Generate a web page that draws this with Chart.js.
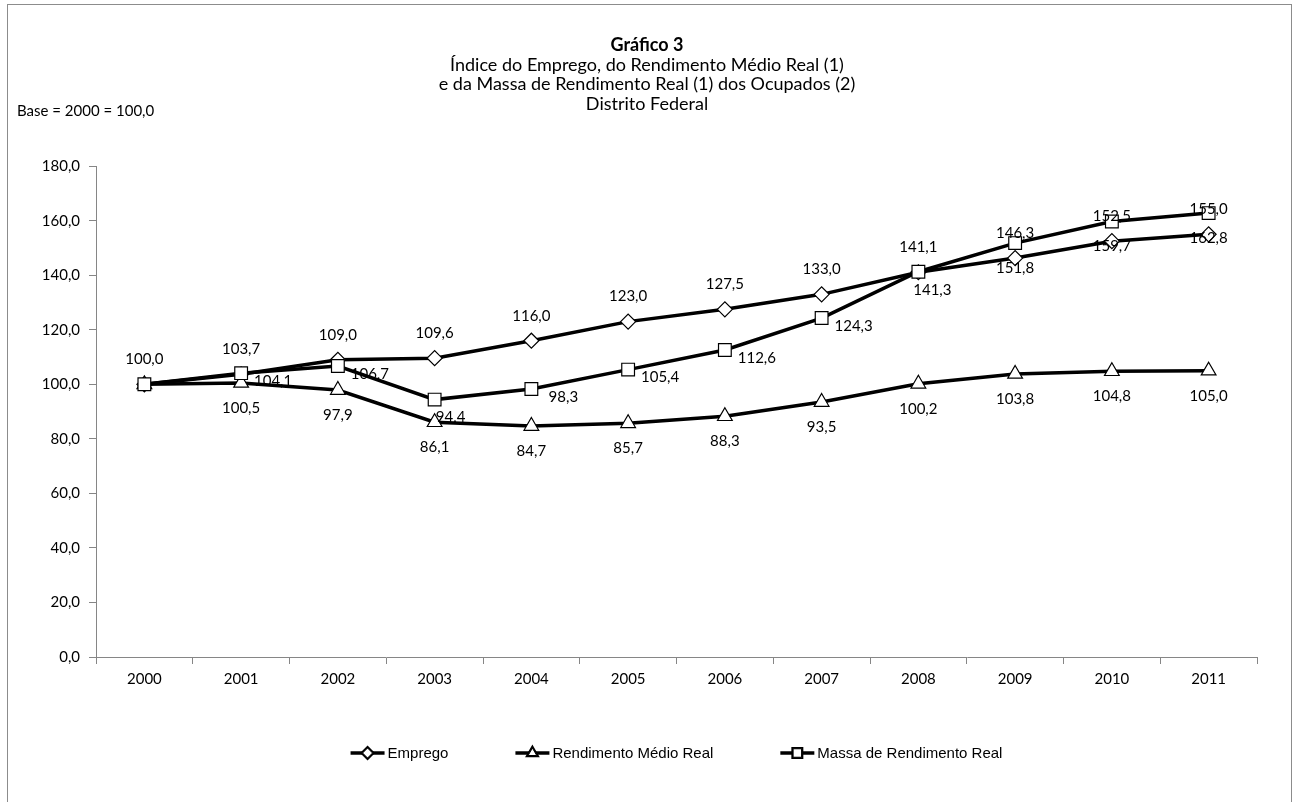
<!DOCTYPE html>
<html>
<head>
<meta charset="utf-8">
<script src="https://cdn.jsdelivr.net/npm/chart.js"></script>
<style>
html, body { margin: 0; padding: 0; background: #fff; overflow: hidden; }
#wrap { position: relative; width: 1294px; height: 802px; }
#moldura { position: absolute; left: 7px; top: 4px; width: 1283px; height: 900px; border: 1px solid #8c8c8c; }
canvas { position: absolute; left: 0; top: 0; }
</style>
</head>
<body>
<div id="wrap">
  <div id="moldura"></div>
  <canvas id="grafico" width="1294" height="802"></canvas>
</div>
<script>
// dados do gráfico (índice, base 2000 = 100)
const anos = ["2000", "2001", "2002", "2003", "2004", "2005", "2006", "2007", "2008", "2009", "2010", "2011"];
const emprego = [100.0, 103.7, 109.0, 109.6, 116.0, 123.0, 127.5, 133.0, 141.1, 146.3, 152.5, 155.0];
const rendimento = [100.0, 100.5, 97.9, 86.1, 84.7, 85.7, 88.3, 93.5, 100.2, 103.8, 104.8, 105.0];
const massa = [100.0, 104.1, 106.7, 94.4, 98.3, 105.4, 112.6, 124.3, 141.3, 151.8, 159.7, 162.8];

const titulo = "Gráfico 3";
const subtitulo = [
    "Índice do Emprego, do Rendimento Médio Real (1)",
    "e da Massa de Rendimento Real (1) dos Ocupados (2)",
    "Distrito Federal"
];
const notaBase = "Base = 2000 = 100,0";

const fonte = "Lato, 'Open Sans', sans-serif";
const corEixo = "#868686";

function fmt(v) {
    return v.toFixed(1).replace(".", ",");
}

// rótulos de dados, cada série com seu deslocamento
const rotulos = {
    id: "rotulos",
    afterDatasetsDraw(chart) {
        const ctx = chart.ctx;
        ctx.save();
        ctx.font = "15px " + fonte;
        ctx.fillStyle = "#000";
        ctx.textAlign = "center";
        ctx.textBaseline = "middle";
        chart.data.datasets.forEach((ds, di) => {
            const meta = chart.getDatasetMeta(di);
            meta.data.forEach((pt, i) => {
                if (ds.semRotulo && ds.semRotulo.includes(i)) return;
                const d = ds.deslocar(i);
                ctx.fillText(fmt(ds.data[i]), pt.x + d[0], pt.y + d[1]);
            });
        });
        ctx.restore();
    }
};

// legenda no estilo Excel (linha + marcador)
const legendaExcel = {
    id: "legendaExcel",
    afterDraw(chart) {
        const ctx = chart.ctx;
        const area = chart.chartArea;
        const y = 753;
        const linha = 34, folga = 3, espaco = 67;
        ctx.save();
        ctx.font = "15px 'Liberation Sans', Arial, sans-serif";
        ctx.textBaseline = "middle";
        const larguras = chart.data.datasets.map(ds => linha + folga + ctx.measureText(ds.label).width);
        const total = larguras.reduce((a, b) => a + b, 0) + espaco * (larguras.length - 1);
        let x = (area.left + area.right) / 2 - total / 2;
        chart.data.datasets.forEach((ds, i) => {
            ctx.strokeStyle = "#000";
            ctx.lineWidth = 3.5;
            ctx.beginPath();
            ctx.moveTo(x, y);
            ctx.lineTo(x + linha, y);
            ctx.stroke();
            Chart.helpers.drawPoint(ctx, {
                pointStyle: ds.pointStyle,
                radius: ds.pointStyle === "rect" ? 6 : 5,
                borderWidth: 1
            }, x + linha / 2, y);
            ctx.fillStyle = "#fff";
            ctx.fill();
            ctx.strokeStyle = "#000";
            ctx.lineWidth = 1;
            ctx.stroke();
            ctx.fillStyle = "#000";
            ctx.textAlign = "left";
            ctx.fillText(ds.label, x + linha + folga, y + 1);
            x += larguras[i] + espaco;
        });
        ctx.restore();
    }
};

// nota "Base = ..." no canto esquerdo
const nota = {
    id: "nota",
    afterDraw(chart) {
        const ctx = chart.ctx;
        ctx.save();
        ctx.font = "15px " + fonte;
        ctx.fillStyle = "#000";
        ctx.textAlign = "left";
        ctx.textBaseline = "middle";
        ctx.fillText(notaBase, 17, 111);
        ctx.restore();
    }
};

const estiloLinha = {
    borderColor: "#000",
    borderWidth: 3.5,
    pointBackgroundColor: "#fff",
    pointBorderColor: "#000",
    pointBorderWidth: 1.2,
    tension: 0,
    fill: false
};

new Chart(document.getElementById("grafico").getContext("2d"), {
    type: "line",
    data: {
        labels: anos,
        datasets: [
            Object.assign({}, estiloLinha, {
                label: "Emprego",
                data: emprego,
                pointStyle: "rectRot",
                pointRadius: 7.5,
                order: 3,
                deslocar: () => [0, -25]
            }),
            Object.assign({}, estiloLinha, {
                label: "Rendimento Médio Real",
                data: rendimento,
                pointStyle: "triangle",
                pointRadius: 8.5,
                order: 2,
                semRotulo: [0],
                deslocar: () => [0, 25]
            }),
            Object.assign({}, estiloLinha, {
                label: "Massa de Rendimento Real",
                data: massa,
                pointStyle: "rect",
                pointRadius: 9,
                order: 1,
                semRotulo: [0],
                deslocar: i => {
                    if (i === 3) return [16, 18];
                    if (i === 8) return [14, 18];
                    if (i > 8) return [0, 25];
                    return [32, 8];
                }
            })
        ]
    },
    options: {
        responsive: false,
        animation: false,
        events: [],
        layout: { padding: { left: 37, right: 37, top: 0, bottom: 105 } },
        plugins: {
            legend: { display: false },
            tooltip: { enabled: false },
            title: {
                display: true,
                text: titulo,
                color: "#000",
                font: { family: fonte, size: 18, weight: "bold", lineHeight: 1.1 },
                padding: { top: 35, bottom: 0 }
            },
            subtitle: {
                display: true,
                text: subtitulo,
                color: "#000",
                font: { family: fonte, size: 18, lineHeight: 1.1 },
                padding: { top: 0, bottom: 52 }
            }
        },
        scales: {
            x: {
                offset: true,
                grid: { offset: true, drawOnChartArea: false, tickLength: 7, color: corEixo },
                border: { color: corEixo, width: 1 },
                ticks: { color: "#000", font: { family: fonte, size: 15 }, padding: 6, maxRotation: 0 },
                afterFit: s => { s.height = 40; }
            },
            y: {
                min: 0,
                max: 180,
                grid: { drawOnChartArea: false, tickLength: 7, color: corEixo },
                border: { color: corEixo, width: 1 },
                ticks: {
                    stepSize: 20,
                    color: "#000",
                    font: { family: fonte, size: 15 },
                    padding: 9,
                    callback: v => fmt(v)
                },
                afterFit: s => { s.width = 59; }
            }
        }
    },
    plugins: [rotulos, legendaExcel, nota]
});
</script>
</body>
</html>
